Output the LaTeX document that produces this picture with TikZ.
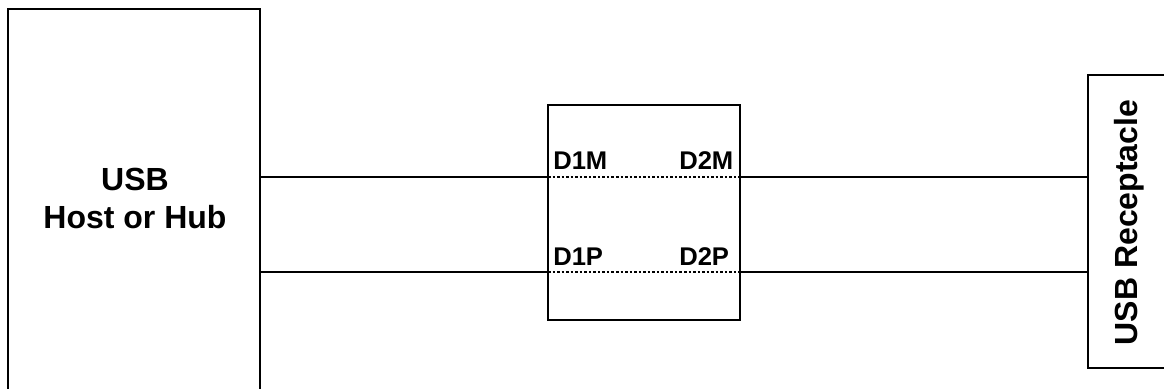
\documentclass[tikz,border=0pt]{standalone}
\usepackage{fontspec}
\setmainfont{Liberation Sans}
\tikzset{
  BoxStyle/.style ={draw, line width=1.5pt, inner sep=0pt},
  TitleStyle/.style ={inner sep=0pt, align=center, font=\bfseries\fontsize{24}{29}\selectfont},
  PortStyle/.style ={inner sep=0pt, font=\bfseries\fontsize{19.2}{23}\selectfont},
  WireStyle/.style ={line width=1.5pt},
  InnerStyle/.style ={line width=1.2pt, dash pattern=on 1.9pt off 1.5pt}
}
\begin{document}
\begin{tikzpicture}[x=0.75pt, y=-0.75pt]
\useasboundingbox (0,0) rectangle (1164,389);
\clip (0,0) rectangle (1164,389);
\node[BoxStyle, minimum width=189pt, minimum height=300pt] (host) at (134,209) {};
\node[TitleStyle] (hostlabel) at (135,198.5) {USB\\Host or Hub};
\node[BoxStyle, minimum width=144pt, minimum height=161.25pt] (switch) at (644,212.5) {};
\node[BoxStyle, minimum width=63pt, minimum height=219.75pt] (conn) at (1130,221.5) {};
\node[TitleStyle, rotate=90] (connlabel) at (1129,222.5) {USB Receptacle};
\coordinate (M1) at (548,177);
\coordinate (M2) at (740,177);
\coordinate (P1) at (548,272);
\coordinate (P2) at (740,272);
\node[PortStyle, anchor=base west] (D1M) at (553,169) {D1M};
\node[PortStyle, anchor=base west] (D2M) at (679,169) {D2M};
\node[PortStyle, anchor=base west] (D1P) at (553,265) {D1P};
\node[PortStyle, anchor=base west] (D2P) at (679,265) {D2P};
\draw[WireStyle] (host.east |- M1) -- (M1);
\draw[WireStyle] (host.east |- P1) -- (P1);
\draw[WireStyle] (M2) -- (conn.west |- M2);
\draw[WireStyle] (P2) -- (conn.west |- P2);
\draw[InnerStyle] (M1) -- (M2);
\draw[InnerStyle] (P1) -- (P2);
\end{tikzpicture}
\end{document}
